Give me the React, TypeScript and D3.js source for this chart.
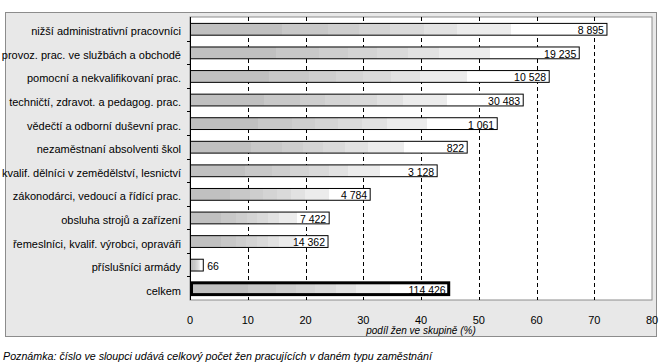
import React from "react";
import * as d3 from "d3";

const categories = [
  "nižší administrativní pracovníci",
  "provoz. prac. ve službách a obchodě",
  "pomocní a nekvalifikovaní prac.",
  "techničtí, zdravot. a pedagog. prac.",
  "vědečtí a odborní duševní prac.",
  "nezaměstnaní absolventi škol",
  "kvalif. dělníci v zemědělství, lesnictví",
  "zákonodárci, vedoucí a řídící prac.",
  "obsluha strojů a zařízení",
  "řemeslníci, kvalif. výrobci, opraváři",
  "příslušníci armády",
  "celkem",
];
// podíl žen ve skupině (%)
const shares = [72.2, 67.4, 62.2, 57.7, 53.2, 48.0, 42.8, 31.2, 24.1, 23.9, 2.3, 44.8];
// celkový počet žen
const counts = [8895, 19235, 10528, 30483, 1061, 822, 3128, 4784, 7422, 14362, 66, 114426];
const xTicks = [0, 10, 20, 30, 40, 50, 60, 70, 80];

const axisTitle = "podíl žen ve skupině (%)";
const note = "Poznámka: číslo ve sloupci udává celkový počet žen pracujících v daném typu zaměstnání";

// stepped grey-to-white fill, like the original
const bands: [number, string][] = [
  [0.22, "#c0c0c0"],
  [0.33, "#c8c8c8"],
  [0.405, "#cecece"],
  [0.48, "#d4d4d4"],
  [0.56, "#dadada"],
  [0.64, "#e2e2e2"],
  [0.77, "#ececec"],
  [1, "#ffffff"],
];

const font = "'Liberation Sans', Arial, sans-serif";
const fmt = d3.formatLocale({ decimal: ",", thousands: " ", grouping: [3], currency: ["", ""] }).format(",");

export default function App() {
  const W = 668;
  const H = 363;
  const left = 190;
  const right = 652;
  const top = 17;
  const bottom = 300;

  const x = d3.scaleLinear().domain([0, 80]).range([left, right]);
  const y = d3
    .scaleBand<string>()
    .domain(categories)
    .range([top, bottom])
    .paddingInner(0.5)
    .paddingOuter(0.25);
  const step = y.step();
  const last = categories[categories.length - 1];

  const stops: JSX.Element[] = [];
  let prev = 0;
  bands.forEach(([end, col], i) => {
    stops.push(<stop key={`a${i}`} offset={prev} stopColor={col} />);
    stops.push(<stop key={`b${i}`} offset={end} stopColor={col} />);
    prev = end;
  });

  return (
    <svg
      width={W}
      height={H}
      style={{ position: "absolute", left: 0, top: 0, display: "block" }}
      fontFamily={font}
    >
      <defs>
        <linearGradient id="barFill" x1="0" x2="1" y1="0" y2="0">
          {stops}
        </linearGradient>
      </defs>
      <rect x={0} y={0} width={W} height={H} fill="#fff" />
      {/* chart frame */}
      <rect x={5.5} y={12.5} width={651} height={324} fill="#e8e8e8" stroke="#8c8c8c" />
      <rect x={left} y={top} width={right - left} height={bottom - top} fill="#fff" stroke="#8c8c8c" />

      {/* gridlines */}
      {xTicks.slice(1, -1).map((t) => (
        <line
          key={t}
          x1={Math.round(x(t)) + 0.5}
          x2={Math.round(x(t)) + 0.5}
          y1={top}
          y2={bottom}
          stroke="#000"
          strokeDasharray="4,3"
        />
      ))}

      {/* bars */}
      {categories.map((c, i) => {
        const by = y(c)!;
        const bw = x(shares[i]) - x(0);
        const thick = c === last;
        const inside = bw > 40;
        return (
          <g key={c}>
            <rect
              x={x(0) + (thick ? 1.5 : 0.5)}
              y={by + 0.5}
              width={bw - (thick ? 1.5 : 0.5)}
              height={y.bandwidth()}
              fill="url(#barFill)"
              stroke="#000"
              strokeWidth={thick ? 3 : 1}
            />
            <text
              x={inside ? x(shares[i]) - 3 : x(shares[i]) + 4}
              y={by + y.bandwidth() - 0.5}
              textAnchor={inside ? "end" : "start"}
              fontSize={10.5}
              fill="#000"
            >
              {fmt(counts[i])}
            </text>
            <text
              x={181}
              y={by + y.bandwidth() / 2 + 6.5}
              textAnchor="end"
              fontSize={11}
              fill="#000"
            >
              {c}
            </text>
          </g>
        );
      })}

      {/* y axis */}
      <line x1={left + 0.5} x2={left + 0.5} y1={top} y2={bottom} stroke="#000" />
      {d3.range(1, categories.length).map((k) => (
        <line
          key={k}
          x1={left - 3}
          x2={left}
          y1={Math.round(top + k * step) + 0.5}
          y2={Math.round(top + k * step) + 0.5}
          stroke="#000"
        />
      ))}

      {/* x tick labels */}
      {xTicks.map((t) => (
        <text key={t} x={x(t)} y={323.5} textAnchor="middle" fontSize={11} fill="#000">
          {t}
        </text>
      ))}
      <text x={(left + right) / 2} y={334} textAnchor="middle" fontSize={10} fontStyle="italic" fill="#000">
        {axisTitle}
      </text>

      <text x={3} y={360} fontSize={10.7} fontStyle="italic" fill="#000">
        {note}
      </text>
    </svg>
  );
}
